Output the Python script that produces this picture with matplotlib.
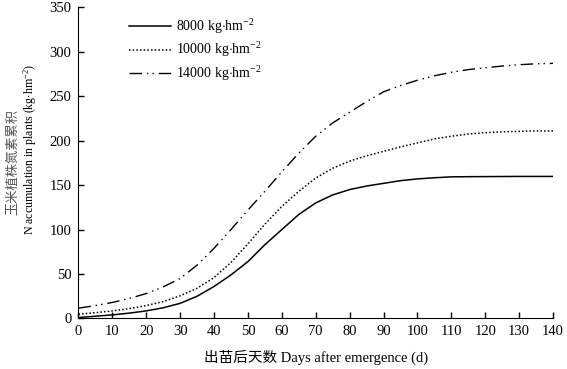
import matplotlib
matplotlib.use("Agg")
import matplotlib.pyplot as plt

plt.rcParams["font.family"] = ["Liberation Serif", "Noto Sans CJK SC"]
plt.rcParams["mathtext.fontset"] = "custom"
plt.rcParams["mathtext.rm"] = "Liberation Serif"
plt.rcParams["mathtext.it"] = "Liberation Serif:italic"

days = [0, 5, 10, 15, 20, 25, 30, 35, 40, 45, 50, 55, 60, 65, 70,
        75, 80, 85, 90, 95, 100, 105, 110, 115, 120, 125, 130, 135, 140]
n8000 = [1, 2.5, 4, 6, 8.5, 12, 17, 25, 36, 49, 64, 83, 100, 117, 130,
         139, 145, 149, 152, 155, 157, 158.3, 159.3, 159.5, 159.6, 159.7, 159.8, 159.8, 159.8]
n10000 = [4.7, 6.5, 8.5, 11, 14.5, 19, 25.5, 34, 46, 63, 84, 106, 126, 143, 158,
          169, 177, 183, 188, 193, 197.5, 202, 205, 207.5, 209, 210, 210.5, 211, 211]
n14000 = [11.5, 14.5, 18, 22.5, 28, 35.5, 45, 60, 79, 100, 122, 143, 165, 186, 205,
          220, 232, 244, 255, 262, 268, 273, 277, 280, 282, 284, 285.5, 286.5, 287]
labels = ["8000 kg$\\cdot$hm$^{-2}$", "10000 kg$\\cdot$hm$^{-2}$", "14000 kg$\\cdot$hm$^{-2}$"]

fig = plt.figure(figsize=(5.67, 3.69), dpi=100)
ax = fig.add_axes([0.1384, 0.137, 0.8369, 0.843])

ax.plot(days, n8000, color="black", lw=1.1, label=labels[0])
ax.plot(days, n10000, color="black", lw=1.1, linestyle=(0, (1, 1.4)), label=labels[1])
ax.plot(days, n14000, color="black", lw=1.0,
        linestyle=(0, (9, 3.5, 1, 3, 1, 3.5)), label=labels[2])

ax.set_xlim(0, 140)
ax.set_ylim(0, 350)
ax.set_xticks(range(0, 141, 10))
ax.set_yticks(range(0, 351, 50))
ax.spines["top"].set_visible(False)
ax.spines["right"].set_visible(False)
ax.tick_params(direction="in", length=4, width=1, labelsize=10.5, pad=5)

ax.set_xlabel("出苗后天数 Days after emergence (d)", fontsize=10.5, labelpad=8)

fig.text(0.023, 0.561, "玉米植株氮素累积", rotation=90, ha="center", va="center",
         fontsize=9.5, color="#555555", family=["Noto Sans CJK SC"])
fig.text(0.053, 0.596, "N accumulation in plants (kg$\\cdot$hm$^{-2}$)", rotation=90,
         ha="center", va="center", fontsize=8.6)

ax.legend(loc="upper left", bbox_to_anchor=(0.08, 1.01), frameon=False,
          fontsize=10, handlelength=3.0, labelspacing=0.35, handletextpad=0.4)

fig.savefig("out.png", dpi=100)
